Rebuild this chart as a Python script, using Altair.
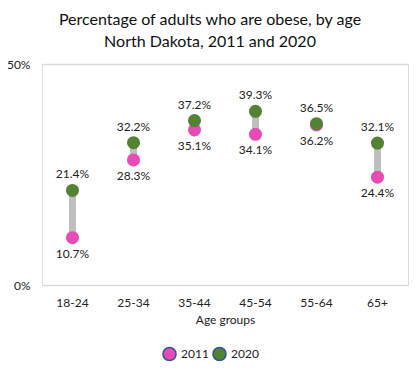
import altair as alt
import pandas as pd

ages = ["18-24", "25-34", "35-44", "45-54", "55-64", "65+"]
v2011 = [10.7, 28.3, 35.1, 34.1, 36.2, 24.4]
v2020 = [21.4, 32.2, 37.2, 39.3, 36.5, 32.1]
years = ["2011", "2020"]
colors = ["#E84AB6", "#548235"]

wide = pd.DataFrame({"age": ages, "y2011": v2011, "y2020": v2020})
long = pd.DataFrame({
    "age": ages + ages,
    "year": [years[0]] * len(ages) + [years[1]] * len(ages),
    "value": v2011 + v2020,
})

FONT = "Lato"

x = alt.X("age:N", sort=ages, title="Age groups",
          scale=alt.Scale(paddingInner=0, paddingOuter=0),
          axis=alt.Axis(labelAngle=0, domain=False, ticks=False, labelPadding=12,
                        titlePadding=6, labelFontSize=12, titleFontSize=12,
                        labelColor="#222", titleColor="#222", titleFontWeight="normal",
                        grid=False))
yscale = alt.Scale(domain=[0, 50], nice=False)

rules = alt.Chart(wide).mark_rule(color="#BFBFBF", strokeWidth=7).encode(
    x=x,
    y=alt.Y("y2011:Q", scale=yscale, title=None,
            axis=alt.Axis(values=[0, 50], labelExpr="datum.value + '%'", domain=False,
                          ticks=False, labelPadding=12, labelFontSize=12,
                          labelColor="#222", gridColor="#D9D9D9", gridWidth=1.5)),
    y2="y2020:Q",
)

points = alt.Chart(long).mark_circle(size=170, opacity=1).encode(
    x=x,
    y=alt.Y("value:Q", scale=yscale),
    color=alt.Color("year:N", scale=alt.Scale(domain=years, range=colors),
                    legend=alt.Legend(title=None, orient="none", direction="horizontal",
                                      legendX=120, legendY=282, symbolType="circle",
                                      symbolSize=170, symbolStrokeColor="#2F5597",
                                      symbolStrokeWidth=1.5, labelFontSize=12,
                                      labelColor="#222", columnPadding=0, labelOffset=4)),
)

lab_top = alt.Chart(long).transform_filter("datum.year == '2020'").transform_calculate(
    lab="format(datum.value, '.1f') + '%'"
).mark_text(dy=-16, fontSize=12, color="#222", font=FONT).encode(
    x=x, y=alt.Y("value:Q", scale=yscale), text="lab:N")

lab_bot = alt.Chart(long).transform_filter("datum.year == '2011'").transform_calculate(
    lab="format(datum.value, '.1f') + '%'"
).mark_text(dy=16, fontSize=12, color="#222", font=FONT).encode(
    x=x, y=alt.Y("value:Q", scale=yscale), text="lab:N")

chart = alt.layer(rules, points, lab_top, lab_bot).properties(
    width=366, height=221,
    autosize=alt.AutoSizeParams(type="none"),
    padding={"left": 34, "top": 56, "right": 4, "bottom": 80},
    title=alt.TitleParams(["Percentage of adults who are obese, by age",
                           "North Dakota, 2011 and 2020"],
                          fontSize=16, font=FONT, fontWeight="normal", color="#111",
                          anchor="middle", dx=-15, offset=8, lineHeight=22),
).configure_view(stroke=None).configure(font=FONT)

chart.save("out.html", embed_options={"renderer": "svg", "actions": False})
